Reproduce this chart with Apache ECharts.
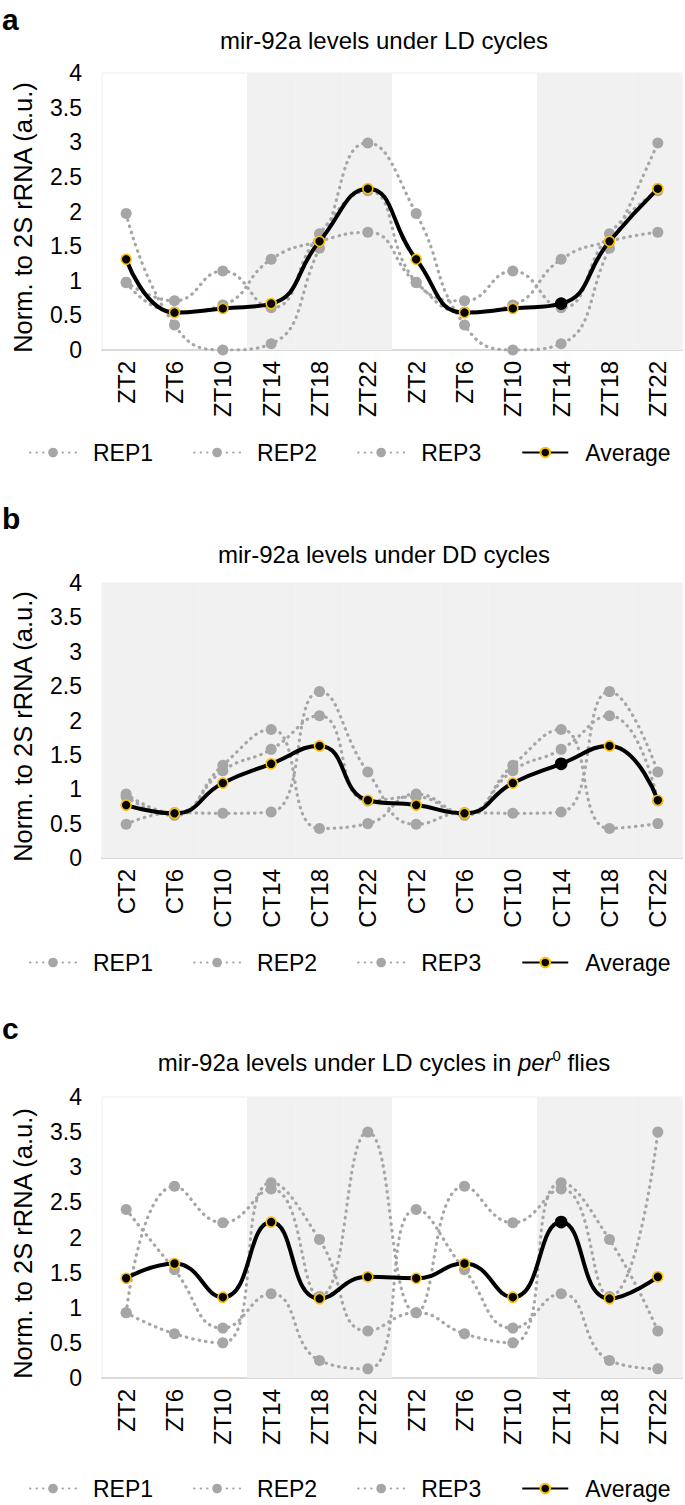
<!DOCTYPE html>
<html><head><meta charset="utf-8">
<script src="https://cdn.jsdelivr.net/npm/echarts@6/dist/echarts.min.js"></script>
<style>html,body{margin:0;padding:0;background:#fff}#c{width:685px;height:1505px}</style>
</head><body><div id="c"></div>
<script>
// ---- data ----
const catsLD = ['ZT2','ZT6','ZT10','ZT14','ZT18','ZT22','ZT2','ZT6','ZT10','ZT14','ZT18','ZT22'];
const catsDD = ['CT2','CT6','CT10','CT14','CT18','CT22','CT2','CT6','CT10','CT14','CT18','CT22'];
const shadeLD = [0,0,0,1,1,1,0,0,0,1,1,1];
const shadeDD = [1,1,1,1,1,1,1,1,1,1,1,1];
const seriesNames = ['REP1','REP2','REP3','Average'];
const yTitle = 'Norm. to 2S rRNA (a.u.)';
const titleA = 'mir-92a levels under LD cycles';
const titleB = 'mir-92a levels under DD cycles';

const aRep1 = [1.97, 0.36, 0.00, 0.09, 1.47, 2.99, 1.97, 0.36, 0.00, 0.09, 1.47, 2.99];
const aRep2 = [0.98, 0.71, 1.14, 0.61, 1.68, 2.30, 0.98, 0.71, 1.14, 0.61, 1.68, 2.30];
const aRep3 = [0.97, 0.55, 0.65, 1.31, 1.57, 1.70, 0.97, 0.55, 0.65, 1.31, 1.57, 1.70];
const aAvg  = [1.31, 0.54, 0.60, 0.67, 1.57, 2.33, 1.31, 0.54, 0.60, 0.67, 1.57, 2.33];

const bRep1 = [0.93, 0.65, 1.35, 1.87, 0.43, 0.50, 0.93, 0.65, 1.35, 1.87, 0.43, 0.50];
const bRep2 = [0.89, 0.62, 1.27, 1.58, 2.07, 0.83, 0.89, 0.62, 1.27, 1.58, 2.07, 0.83];
const bRep3 = [0.49, 0.66, 0.65, 0.67, 2.42, 1.25, 0.49, 0.66, 0.65, 0.67, 2.42, 1.25];
const bAvg  = [0.77, 0.65, 1.09, 1.37, 1.63, 0.84, 0.77, 0.65, 1.09, 1.37, 1.63, 0.84];

const cRep1 = [2.40, 1.54, 0.71, 1.20, 0.25, 0.13, 2.40, 1.54, 0.71, 1.20, 0.25, 0.13];
const cRep2 = [0.93, 0.63, 0.50, 2.78, 1.97, 0.67, 0.93, 0.63, 0.50, 2.78, 1.97, 0.67];
const cRep3 = [0.93, 2.73, 2.21, 2.69, 1.16, 3.50, 0.93, 2.73, 2.21, 2.69, 1.16, 3.50];
const cAvg  = [1.42, 1.63, 1.15, 2.22, 1.13, 1.44, 1.42, 1.63, 1.15, 2.22, 1.13, 1.44];

// ---- style ----
const FONT = '"Liberation Sans", Arial, Helvetica, sans-serif';
const GREY = '#a6a6a6';
const GOLD = '#ffc000';
const plainIdx = 9; // average point drawn without gold border
const yMax = 4;

const panels = [
  {cats: catsLD, shade: shadeLD, reps: [aRep1, aRep2, aRep3], avg: aAvg, top: 73, height: 277, letter: 'a', letterTop: 4, titleTop: 28, legendTop: 441},
  {cats: catsDD, shade: shadeDD, reps: [bRep1, bRep2, bRep3], avg: bAvg, top: 583, height: 275, letter: 'b', letterTop: 503, titleTop: 542, legendTop: 951},
  {cats: catsLD, shade: shadeLD, reps: [cRep1, cRep2, cRep3], avg: cAvg, top: 1097, height: 281, letter: 'c', letterTop: 1013, titleTop: 1048, legendTop: 1477}
];

const grids = [], xAxes = [], yAxes = [], series = [], legends = [], titles = [];
panels.forEach((p, i) => {
  grids.push({left: 102, width: 580, top: p.top, height: p.height, show: true, borderColor: '#eeeeee', borderWidth: 1, backgroundColor: '#fff'});
  xAxes.push({
    type: 'category', gridIndex: i, data: p.cats, boundaryGap: true,
    axisLine: {lineStyle: {color: '#d9d9d9', width: 2}}, axisTick: {show: false},
    axisLabel: {rotate: 90, interval: 0, fontSize: 24, color: '#000', fontFamily: FONT, margin: 11, padding: [0, 0, 28, 0]}
  });
  yAxes.push({
    type: 'value', gridIndex: i, min: 0, max: yMax, interval: 0.5,
    splitLine: {show: false}, axisLine: {show: false}, axisTick: {show: false},
    axisLabel: {fontSize: 23, color: '#000', fontFamily: FONT, margin: 20},
    name: yTitle, nameLocation: 'middle', nameRotate: 90, nameGap: 66,
    nameTextStyle: {fontSize: 25.5, color: '#000', fontFamily: FONT, padding: [0, 12, 0, 0]}
  });
  series.push({
    type: 'bar', xAxisIndex: i, yAxisIndex: i, silent: true, barWidth: '100%', barGap: '-100%',
    itemStyle: {color: '#f1f1f1'}, data: p.shade.map(s => s ? yMax : '-'), z: 1
  });
  p.reps.forEach((r, k) => {
    series.push({
      type: 'line', name: seriesNames[k], xAxisIndex: i, yAxisIndex: i, data: r, smooth: true,
      symbol: 'circle', symbolSize: 11, itemStyle: {color: GREY},
      lineStyle: {color: GREY, width: 3.2, type: [0.5, 6], cap: 'round'}, z: 3
    });
  });
  series.push({
    type: 'line', name: seriesNames[3], xAxisIndex: i, yAxisIndex: i, smooth: true,
    data: p.avg.map((v, j) => j === plainIdx ? {value: v, itemStyle: {borderColor: '#000'}, symbolSize: 11} : v),
    symbol: 'circle', symbolSize: 10, itemStyle: {color: '#000', borderColor: GOLD, borderWidth: 1.6},
    lineStyle: {color: '#000', width: 4}, z: 5
  });
  legends.push({
    top: p.legendTop, left: 29, width: 656, padding: 0, itemWidth: 46, itemHeight: 12, itemGap: 40, selectedMode: false,
    data: seriesNames, textStyle: {fontSize: 23, color: '#000', fontFamily: FONT, padding: [0, 0, 0, 12]}
  });
  titles.push({text: p.letter, left: 2, top: p.letterTop, padding: 0,
    textStyle: {fontSize: 30, fontWeight: 'bold', color: '#000', fontFamily: FONT}});
});

titles.push({text: titleA, left: 384, textAlign: 'center', top: panels[0].titleTop, padding: 0,
  textStyle: {fontSize: 24, fontWeight: 'normal', color: '#000', fontFamily: FONT}});
titles.push({text: titleB, left: 384, textAlign: 'center', top: panels[1].titleTop, padding: 0,
  textStyle: {fontSize: 24, fontWeight: 'normal', color: '#000', fontFamily: FONT}});
titles.push({text: '{n|mir-92a levels under LD cycles in }{i|per}{s|0}{n| flies}', left: 384, textAlign: 'center', top: panels[2].titleTop, padding: 0,
  textStyle: {fontSize: 24, fontWeight: 'normal', color: '#000', fontFamily: FONT,
    rich: {n: {fontSize: 24, fontFamily: FONT, color: '#000'}, i: {fontSize: 24, fontStyle: 'italic', fontFamily: FONT, color: '#000'},
           s: {fontSize: 15, fontFamily: FONT, color: '#000', padding: [0, 0, 14, 0]}}}});

const chart = echarts.init(document.getElementById('c'), null, {renderer: 'svg'});
chart.setOption({
  animation: false, backgroundColor: '#fff',
  title: titles, grid: grids, xAxis: xAxes, yAxis: yAxes, legend: legends, series: series
});
</script></body></html>
